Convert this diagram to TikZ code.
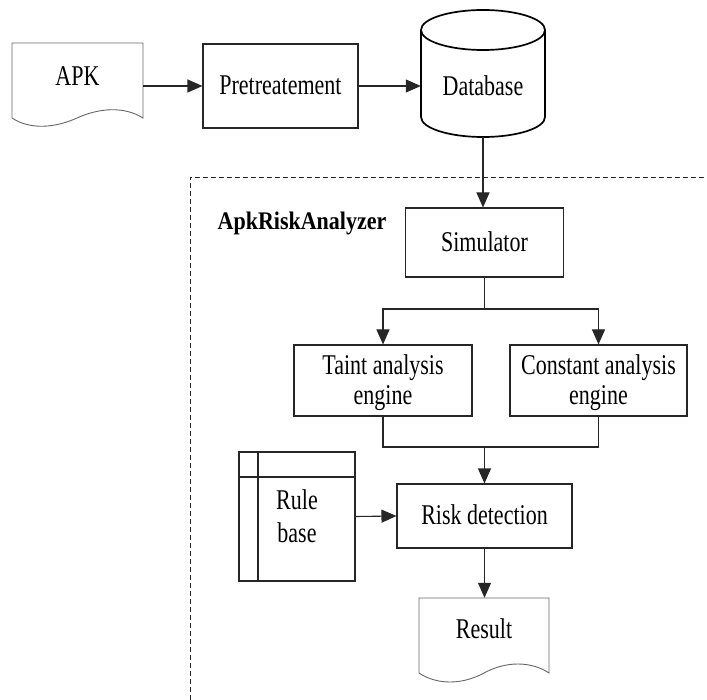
\documentclass[tikz,border=0pt]{standalone}
\usepackage{fontspec}
\setmainfont{Liberation Serif}
\usepackage{graphicx}
\usetikzlibrary{arrows.meta}
\newcommand{\tx}[1]{\setbox0\hbox{\scalebox{1}[1.3]{\begin{tabular}{@{}c@{}}#1\end{tabular}}}\raisebox{-3pt}[\ht0][\dp0]{\copy0}}
\tikzset{
  box/.style={draw=black!85, line width=1.1pt, rectangle, inner sep=0pt, font=\fontsize{22}{23}\selectfont},
  plain/.style={draw=none, rectangle, inner sep=0pt, font=\fontsize{22}{23}\selectfont},
  docline/.style={draw=black!60, line width=0.9pt},
  conn/.style={draw=black!85, line width=1.1pt},
  arr/.style={conn, -{Triangle[length=15pt,width=13pt]}},
}
\begin{document}
\begin{tikzpicture}[x=1pt,y=-1pt]
\useasboundingbox (0,0) rectangle (707,700);
% dashed container
\draw[black!85, line width=0.9pt, dash pattern=on 5pt off 3pt] (190,700) -- (190,177) -- (707,177);
\node[font=\fontsize{22}{23}\selectfont\bfseries, inner sep=0pt] (lab) at (302,223) {\scalebox{1}[1.15]{ApkRiskAnalyzer}};
% APK document
\draw[docline] (12,118) -- (12,43) -- (143,43) -- (143,118)
  .. controls (124,106) and (99,108) .. (77,118)
  .. controls (55,128) and (30,130) .. (12,118);
\node[plain, minimum width=131pt, minimum height=68pt] (apk) at (77.5,77) {\tx{APK}};
% Pretreatement
\node[box, minimum width=155pt, minimum height=84pt] (pre) at (280.5,86) {\tx{Pretreatement}};
% Database cylinder
\draw[black, line width=1.7pt] (483,30) ellipse [x radius=62pt, y radius=20pt];
\draw[black, line width=1.7pt] (421,30) -- (421,117) arc[start angle=180, end angle=360, x radius=62pt, y radius=20pt] -- (545,30);
\node[plain, minimum width=124pt, minimum height=100pt] (db) at (483,87) {\tx{Database}};
% Simulator
\node[box, minimum width=158pt, minimum height=69pt] (sim) at (484.5,242.5) {\tx{Simulator}};
% engines
\node[box, minimum width=178pt, minimum height=71pt] (taint) at (383,380.5) {\tx{Taint analysis\\engine}};
\node[box, minimum width=177pt, minimum height=71pt] (const) at (598.5,380.5) {\tx{Constant analysis\\engine}};
% Risk detection
\node[box, minimum width=175pt, minimum height=64pt] (risk) at (484.5,516) {\tx{Risk detection}};
% Rule base
\node[box, minimum width=116pt, minimum height=129pt, font=\fontsize{22}{25}\selectfont] (rule) at (297,516.5) {\tx{Rule\\base}};
\draw[conn] (258,452) -- (258,581);
\draw[conn] (239,477) -- (355,477);
% Result document
\draw[docline] (419,673) -- (419,598) -- (549,598) -- (549,673)
  .. controls (531,661) and (506,661) .. (484,673)
  .. controls (462,685) and (437,685) .. (419,673);
\node[plain, minimum width=130pt, minimum height=64pt] (result) at (484,630) {\tx{Result}};
% connectors
\coordinate (s1) at (484.5,309);
\coordinate (m1) at (484.5,447);
\draw[arr] (apk.east |- pre.west) -- (pre.west);
\draw[arr] (pre.east) -- (pre.east -| db.west);
\draw[arr] (db.south) -- (db.south |- sim.north);
\draw[conn] (sim.south) -- (s1);
\draw[arr] (s1) -| (taint.north);
\draw[arr] (s1) -| (const.north);
\draw[conn] (taint.south) |- (m1);
\draw[conn] (const.south) |- (m1);
\draw[arr] (m1) -- (risk.north);
\draw[arr] (rule.east) -- (risk.west);
\draw[arr] (risk.south) -- (risk.south |- result.north);
\end{tikzpicture}
\end{document}
